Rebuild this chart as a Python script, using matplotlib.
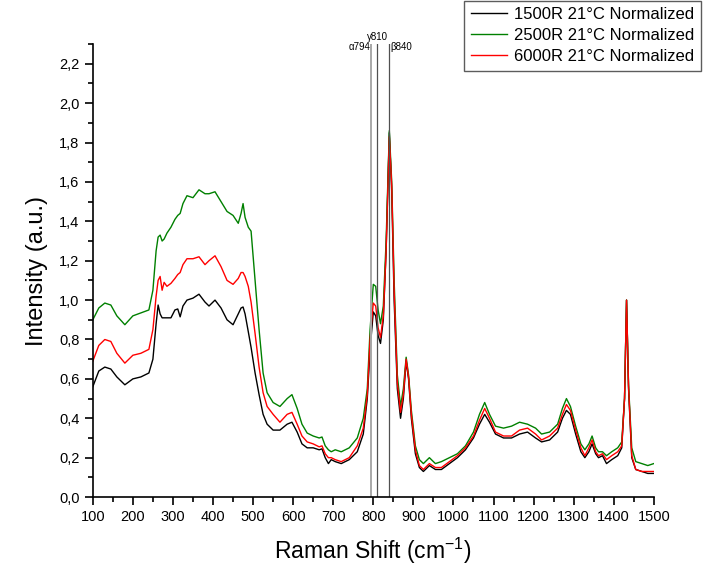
import numpy as np
import matplotlib.pyplot as plt
from matplotlib.ticker import MultipleLocator, FuncFormatter

plt.rcParams['font.family'] = ['Liberation Sans', 'DejaVu Sans']
plt.rcParams['mathtext.default'] = 'regular'

# Raman shift (cm-1) sample positions
shift = [100, 115, 130, 145, 160, 180, 200, 220, 240, 250,
         258, 263, 268, 273, 278, 285, 295, 305, 312, 318,
         325, 335, 350, 365, 380, 390, 405, 420, 435, 450,
         463, 470, 475, 480, 488, 495, 505, 515, 525, 535,
         550, 567, 585, 597, 610, 622, 635, 650, 665, 672,
         680, 688, 695, 705, 720, 740, 760, 775, 785, 792,
         800, 806, 812, 818, 825, 832, 840, 846, 852, 860,
         868, 875, 882, 888, 895, 905, 915, 925, 940, 955,
         970, 990, 1010, 1030, 1050, 1065, 1078, 1090, 1105, 1125,
         1145, 1165, 1185, 1205, 1220, 1240, 1260, 1272, 1282, 1292,
         1305, 1318, 1328, 1338, 1346, 1355, 1362, 1372, 1382, 1395,
         1410, 1420, 1427, 1432, 1437, 1445, 1455, 1470, 1485, 1500]

r1500 = [0.56, 0.64, 0.66, 0.65, 0.61, 0.57, 0.60, 0.61, 0.63, 0.70,
         0.88, 0.975, 0.93, 0.91, 0.91, 0.91, 0.91, 0.95, 0.955, 0.915,
         0.97, 1.00, 1.01, 1.03, 0.99, 0.97, 1.00, 0.96, 0.90, 0.875,
         0.93, 0.96, 0.965, 0.93, 0.84, 0.76, 0.63, 0.52, 0.42, 0.37,
         0.34, 0.34, 0.37, 0.38, 0.33, 0.27, 0.25, 0.25, 0.24, 0.245,
         0.20, 0.17, 0.19, 0.18, 0.17, 0.19, 0.23, 0.32, 0.50, 0.75,
         0.94, 0.92, 0.82, 0.78, 0.90, 1.25, 1.85, 1.55, 1.00, 0.55,
         0.40, 0.50, 0.69, 0.60, 0.40, 0.22, 0.15, 0.13, 0.16, 0.14,
         0.14, 0.17, 0.20, 0.24, 0.30, 0.37, 0.42, 0.38, 0.32, 0.30,
         0.30, 0.32, 0.33, 0.30, 0.28, 0.29, 0.33, 0.40, 0.44, 0.42,
         0.32, 0.23, 0.20, 0.23, 0.27, 0.22, 0.20, 0.21, 0.17, 0.19,
         0.21, 0.25, 0.50, 1.00, 0.55, 0.20, 0.14, 0.13, 0.12, 0.12]

r2500 = [0.90, 0.96, 0.985, 0.975, 0.92, 0.875, 0.92, 0.935, 0.95, 1.05,
         1.25, 1.32, 1.33, 1.30, 1.31, 1.34, 1.37, 1.41, 1.43, 1.44,
         1.49, 1.53, 1.52, 1.56, 1.54, 1.54, 1.55, 1.50, 1.45, 1.43,
         1.39, 1.44, 1.49, 1.42, 1.37, 1.35, 1.10, 0.85, 0.63, 0.53,
         0.48, 0.46, 0.50, 0.52, 0.45, 0.37, 0.325, 0.31, 0.30, 0.305,
         0.26, 0.24, 0.23, 0.24, 0.23, 0.25, 0.30, 0.40, 0.55, 0.85,
         1.08, 1.07, 0.95, 0.88, 0.97, 1.30, 1.86, 1.60, 1.10, 0.62,
         0.46, 0.55, 0.71, 0.62, 0.44, 0.26, 0.19, 0.17, 0.20, 0.17,
         0.18, 0.20, 0.22, 0.26, 0.33, 0.42, 0.48, 0.42, 0.36, 0.35,
         0.36, 0.38, 0.37, 0.35, 0.32, 0.33, 0.37, 0.45, 0.50, 0.46,
         0.36, 0.27, 0.24, 0.27, 0.31, 0.25, 0.23, 0.23, 0.21, 0.23,
         0.25, 0.28, 0.50, 1.00, 0.57, 0.25, 0.18, 0.17, 0.16, 0.17]

r6000 = [0.69, 0.77, 0.80, 0.79, 0.73, 0.68, 0.72, 0.73, 0.75, 0.85,
         1.02, 1.10, 1.12, 1.05, 1.09, 1.07, 1.085, 1.11, 1.13, 1.14,
         1.18, 1.21, 1.21, 1.22, 1.18, 1.20, 1.225, 1.17, 1.10, 1.08,
         1.11, 1.14, 1.14, 1.12, 1.07, 0.99, 0.83, 0.66, 0.53, 0.46,
         0.42, 0.38, 0.42, 0.43, 0.37, 0.31, 0.28, 0.27, 0.255, 0.26,
         0.22, 0.20, 0.20, 0.19, 0.18, 0.20, 0.26, 0.35, 0.52, 0.80,
         0.985, 0.97, 0.86, 0.81, 0.92, 1.25, 1.83, 1.58, 1.05, 0.58,
         0.43, 0.52, 0.70, 0.61, 0.42, 0.24, 0.16, 0.14, 0.17, 0.15,
         0.15, 0.18, 0.21, 0.25, 0.31, 0.39, 0.45, 0.40, 0.33, 0.31,
         0.31, 0.34, 0.35, 0.32, 0.29, 0.31, 0.35, 0.42, 0.47, 0.44,
         0.34, 0.25, 0.21, 0.25, 0.29, 0.23, 0.21, 0.22, 0.19, 0.21,
         0.23, 0.26, 0.50, 1.00, 0.56, 0.21, 0.14, 0.13, 0.13, 0.13]

labels = ['1500R 21°C Normalized', '2500R 21°C Normalized', '6000R 21°C Normalized']
colors = ['black', 'green', 'red']

bands = [794, 810, 840]
band_names = ['α794', 'γ810', 'β840']

fig = plt.figure(figsize=(7.03, 5.72), dpi=100)
ax = fig.add_axes([0.132, 0.131, 0.798, 0.792])

for y, lab, c in zip([r1500, r2500, r6000], labels, colors):
    ax.plot(shift, y, color=c, lw=1.0, label=lab)

ax.axvline(bands[0], color='#a8a8a8', lw=1.4)
ax.axvline(bands[1], color='#505050', lw=0.9)
ax.axvline(bands[2], color='#505050', lw=0.9)
ax.text(bands[0] - 2, 2.285, band_names[0], fontsize=7, ha='right', va='center')
ax.text(bands[1], 2.31, band_names[1], fontsize=7, ha='center', va='bottom', clip_on=False)
ax.text(bands[2] + 2, 2.285, band_names[2], fontsize=7, ha='left', va='center')

ax.set_xlim(100, 1500)
ax.set_ylim(0, 2.3)
ax.xaxis.set_major_locator(MultipleLocator(100))
ax.xaxis.set_minor_locator(MultipleLocator(50))
ax.yaxis.set_major_locator(MultipleLocator(0.2))
ax.yaxis.set_minor_locator(MultipleLocator(0.1))
ax.yaxis.set_major_formatter(FuncFormatter(lambda v, p: ('%.1f' % v).replace('.', ',')))

for s in ['top', 'right']:
    ax.spines[s].set_visible(False)
for s in ['left', 'bottom']:
    ax.spines[s].set_linewidth(1.2)
ax.tick_params(which='major', direction='out', length=6, width=1.2, labelsize=10.5)
ax.tick_params(which='minor', direction='out', length=3.5, width=1.2)

ax.set_xlabel('Raman Shift (cm$^{-1}$)', fontsize=16.5, labelpad=8)
ax.set_ylabel('Intensity (a.u.)', fontsize=17, labelpad=8)

leg = fig.legend(loc='upper right', bbox_to_anchor=(0.997, 0.999), fontsize=12,
                 frameon=True, fancybox=False, handlelength=2.2, labelspacing=0.35,
                 borderpad=0.4, handletextpad=0.4, borderaxespad=0)
leg.get_frame().set_edgecolor('#333333')
leg.get_frame().set_linewidth(1.0)

fig.savefig('out.png', dpi=100)
